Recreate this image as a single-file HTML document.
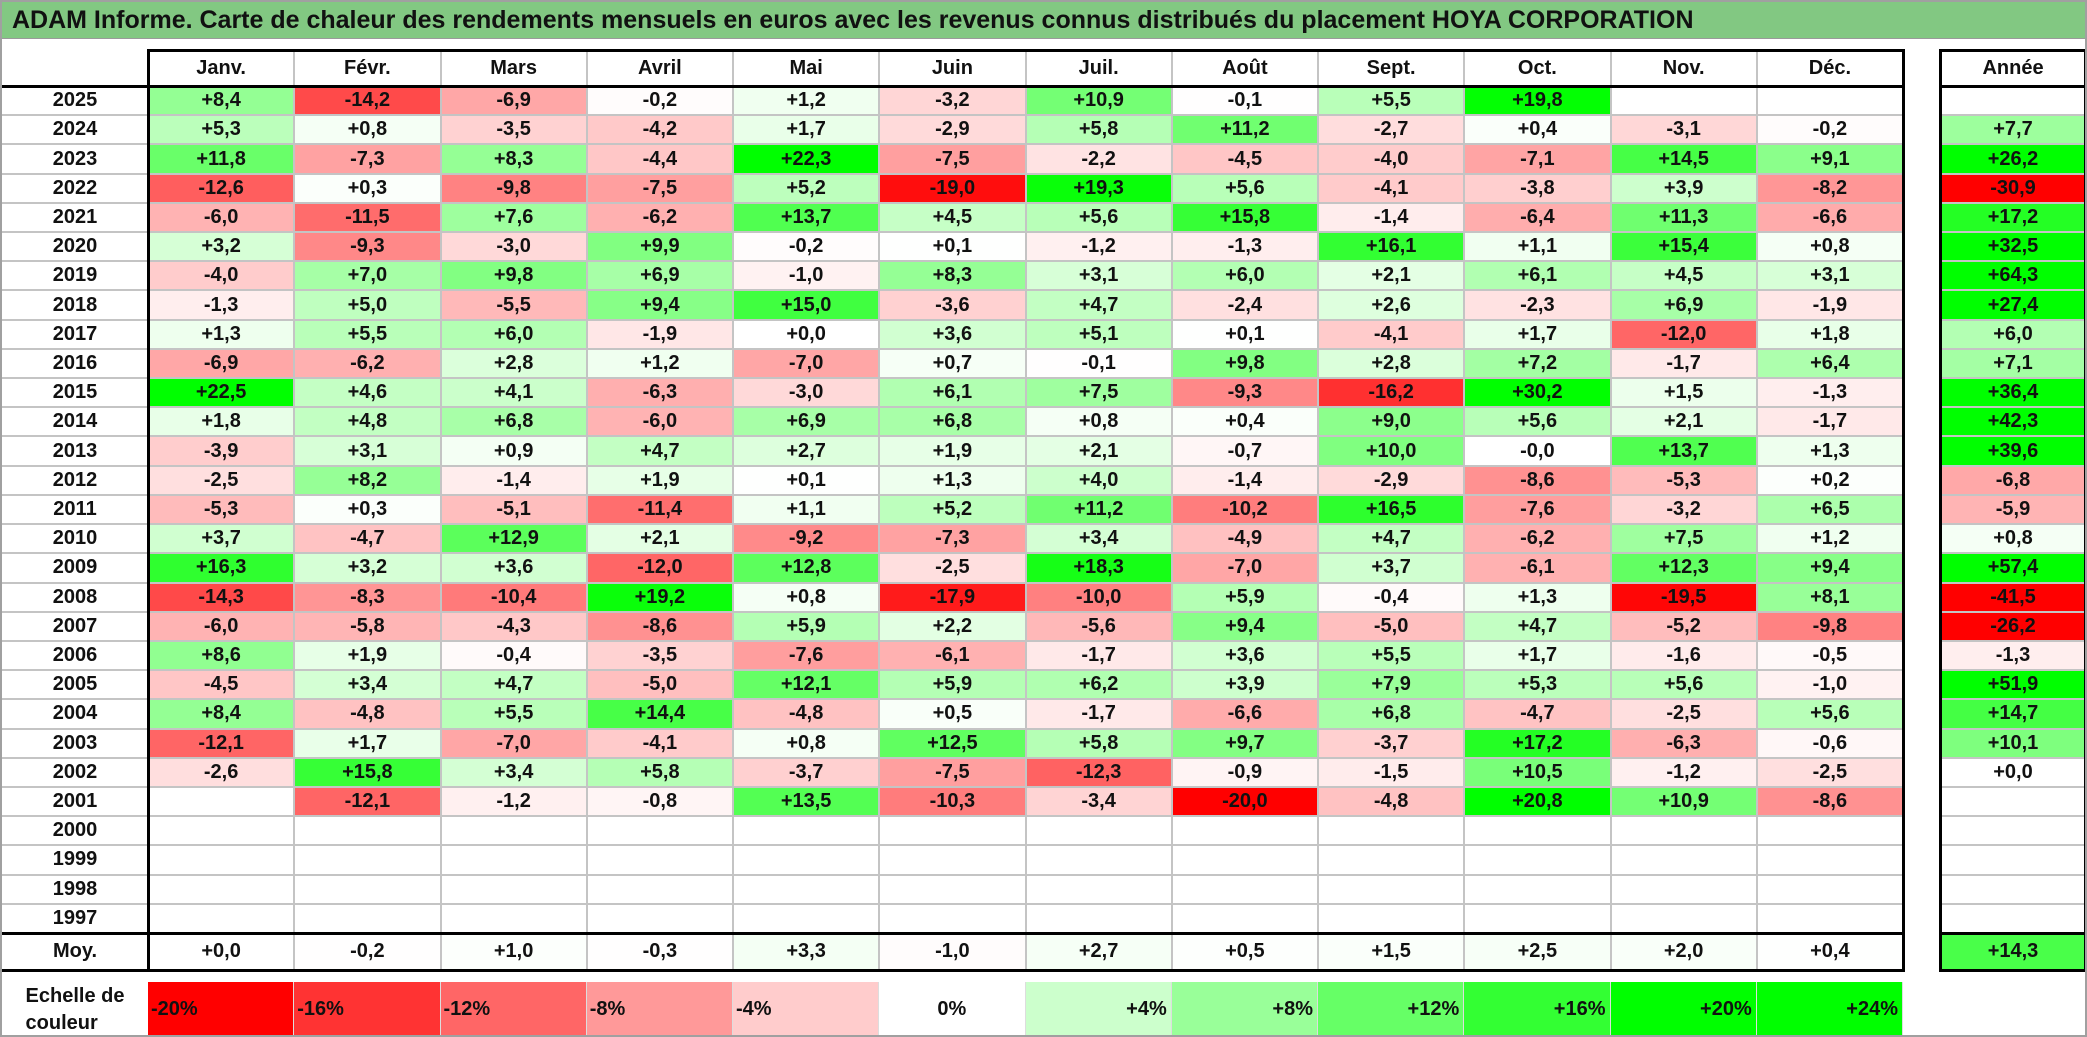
<!DOCTYPE html>
<html><head><meta charset="utf-8"><style>
html,body{margin:0;padding:0;background:#fff;}
#root{position:relative;width:2087px;height:1037px;overflow:hidden;font-family:"Liberation Sans",sans-serif;font-weight:bold;color:#111;box-sizing:border-box;border:2px solid #a0a0a0;}
.c{position:absolute;box-sizing:border-box;display:flex;align-items:center;justify-content:center;font-size:20px;}
.ln{position:absolute;background:#000;}
.gl{position:absolute;background:#c4c4c4;}
</style></head><body>
<div id="root">
<div style="position:absolute;left:0;top:0;width:2087px;height:37px;background:#82c882;border-bottom:1px solid #9a9a9a;font-size:25px;line-height:37px;padding-left:10px;box-sizing:border-box;">ADAM Informe. Carte de chaleur des rendements mensuels en euros avec les revenus connus distribués du placement HOYA CORPORATION</div>
</div>
<script>
const months=["Janv.","Févr.","Mars","Avril","Mai","Juin","Juil.","Août","Sept.","Oct.","Nov.","Déc."];
const years=[2025,2024,2023,2022,2021,2020,2019,2018,2017,2016,2015,2014,2013,2012,2011,2010,2009,2008,2007,2006,2005,2004,2003,2002,2001,2000,1999,1998,1997];
const values=[
[8.4,-14.2,-6.9,-0.2,1.2,-3.2,10.9,-0.1,5.5,19.8,null,null],
[5.3,0.8,-3.5,-4.2,1.7,-2.9,5.8,11.2,-2.7,0.4,-3.1,-0.2],
[11.8,-7.3,8.3,-4.4,22.3,-7.5,-2.2,-4.5,-4.0,-7.1,14.5,9.1],
[-12.6,0.3,-9.8,-7.5,5.2,-19.0,19.3,5.6,-4.1,-3.8,3.9,-8.2],
[-6.0,-11.5,7.6,-6.2,13.7,4.5,5.6,15.8,-1.4,-6.4,11.3,-6.6],
[3.2,-9.3,-3.0,9.9,-0.2,0.1,-1.2,-1.3,16.1,1.1,15.4,0.8],
[-4.0,7.0,9.8,6.9,-1.0,8.3,3.1,6.0,2.1,6.1,4.5,3.1],
[-1.3,5.0,-5.5,9.4,15.0,-3.6,4.7,-2.4,2.6,-2.3,6.9,-1.9],
[1.3,5.5,6.0,-1.9,0.0,3.6,5.1,0.1,-4.1,1.7,-12.0,1.8],
[-6.9,-6.2,2.8,1.2,-7.0,0.7,-0.1,9.8,2.8,7.2,-1.7,6.4],
[22.5,4.6,4.1,-6.3,-3.0,6.1,7.5,-9.3,-16.2,30.2,1.5,-1.3],
[1.8,4.8,6.8,-6.0,6.9,6.8,0.8,0.4,9.0,5.6,2.1,-1.7],
[-3.9,3.1,0.9,4.7,2.7,1.9,2.1,-0.7,10.0,-0.0,13.7,1.3],
[-2.5,8.2,-1.4,1.9,0.1,1.3,4.0,-1.4,-2.9,-8.6,-5.3,0.2],
[-5.3,0.3,-5.1,-11.4,1.1,5.2,11.2,-10.2,16.5,-7.6,-3.2,6.5],
[3.7,-4.7,12.9,2.1,-9.2,-7.3,3.4,-4.9,4.7,-6.2,7.5,1.2],
[16.3,3.2,3.6,-12.0,12.8,-2.5,18.3,-7.0,3.7,-6.1,12.3,9.4],
[-14.3,-8.3,-10.4,19.2,0.8,-17.9,-10.0,5.9,-0.4,1.3,-19.5,8.1],
[-6.0,-5.8,-4.3,-8.6,5.9,2.2,-5.6,9.4,-5.0,4.7,-5.2,-9.8],
[8.6,1.9,-0.4,-3.5,-7.6,-6.1,-1.7,3.6,5.5,1.7,-1.6,-0.5],
[-4.5,3.4,4.7,-5.0,12.1,5.9,6.2,3.9,7.9,5.3,5.6,-1.0],
[8.4,-4.8,5.5,14.4,-4.8,0.5,-1.7,-6.6,6.8,-4.7,-2.5,5.6],
[-12.1,1.7,-7.0,-4.1,0.8,12.5,5.8,9.7,-3.7,17.2,-6.3,-0.6],
[-2.6,15.8,3.4,5.8,-3.7,-7.5,-12.3,-0.9,-1.5,10.5,-1.2,-2.5],
[null,-12.1,-1.2,-0.8,13.5,-10.3,-3.4,-20.0,-4.8,20.8,10.9,-8.6],
[null,null,null,null,null,null,null,null,null,null,null,null],
[null,null,null,null,null,null,null,null,null,null,null,null],
[null,null,null,null,null,null,null,null,null,null,null,null],
[null,null,null,null,null,null,null,null,null,null,null,null]];
const yearTotals=[null,7.7,26.2,-30.9,17.2,32.5,64.3,27.4,6.0,7.1,36.4,42.3,39.6,-6.8,-5.9,0.8,57.4,-41.5,-26.2,-1.3,51.9,14.7,10.1,0.0,null,null,null,null,null];
const averages=[0.0,-0.2,1.0,-0.3,3.3,-1.0,2.7,0.5,1.5,2.5,2.0,0.4];
const averageTotal=14.3;
const scaleSteps=[-20,-16,-12,-8,-4,0,4,8,12,16,20,24];

const root=document.getElementById('root');
const X0=146,CW=(1901-146)/12,Y0=84,RH=(931-84)/29,AX=1938,AW=2084-1938;
const colX=i=>X0+i*CW, rowY=r=>Y0+r*RH;
function color(v){
  if(v===null) return '#fff';
  const t=Math.min(Math.abs(v)/20,1);const k=Math.round(255*(1-t));
  return v<0?`rgb(255,${k},${k})`:`rgb(${k},255,${k})`;
}
function fmt(v){if(v===null)return '';const neg=v<0||Object.is(v,-0);return (neg?'-':'+')+Math.abs(v).toFixed(1).replace('.',',');}
function cell(x,y,w,h,txt,bg,name,extra){
  const d=document.createElement('div');d.className='c';
  d.style.cssText+=`left:${x}px;top:${y}px;width:${w}px;height:${h}px;background:${bg};`+(extra||'');
  d.textContent=txt;
  
  
  root.appendChild(d);return d;
}
function line(x,y,w,h,cls){const d=document.createElement('div');d.className=cls;d.style.cssText=`left:${x}px;top:${y}px;width:${w}px;height:${h}px;`;


root.appendChild(d);}
// headers
months.forEach((m,i)=>cell(colX(i),48,CW,36,m,'#fff','month-header'));
cell(AX,48,AW,36,'Année','#fff','year-total-header');
// cells
years.forEach((y,r)=>{
  cell(0,rowY(r),X0,RH,String(y),'#fff','year-label');
  values[r].forEach((v,i)=>cell(colX(i),rowY(r),CW,RH,fmt(v),color(v),'heatmap-cell'));
  cell(AX,rowY(r),AW,RH,fmt(yearTotals[r]),color(yearTotals[r]),'year-total-cell');
});
cell(0,931,X0,37,'Moy.','#fff','average-label');
averages.forEach((v,i)=>cell(colX(i),931,CW,37,fmt(v),color(v/4),'average-cell'));
cell(AX,931,AW,37,fmt(averageTotal),color(averageTotal),'average-total-cell');
// grid lines
for(let i=1;i<12;i++) line(colX(i)-1,48,2,920,'gl');
for(let r=1;r<29;r++){line(X0,rowY(r)-1,1901-X0,2,'gl');line(0,rowY(r)-1,X0,2,'gl');line(AX,rowY(r)-1,AW,2,'gl');}
// black borders
line(X0,47,1901-X0,3,'ln');line(0,83,1901,3,'ln');line(0,930,1901,3,'ln');line(0,967,1901,3,'ln');
line(X0-1,47,3,923,'ln');line(1900,47,3,923,'ln');
line(AX,47,AW,3,'ln');line(AX,83,AW,3,'ln');line(AX,930,AW,3,'ln');line(AX,967,AW,3,'ln');
line(AX-1,47,3,923,'ln');line(AX+AW-2,47,3,923,'ln');
// scale
const lab=cell(0,980,X0,55,'','#fff','color-scale-label','flex-direction:column;line-height:27px;');
lab.innerHTML='Echelle de<br>couleur';
scaleSteps.forEach((s,i)=>{
  const v=Math.min(s,20);
  const txt=(s>0?'+':'')+s+'%';
  const just=s<0?'justify-content:flex-start;padding-left:3px;':(s>0?'justify-content:flex-end;padding-right:4px;':'');
  cell(colX(i),980,CW,55,txt,color(v),'color-scale-step',just+'border-right:1px solid #ddd;');
});
</script>
</body></html>
